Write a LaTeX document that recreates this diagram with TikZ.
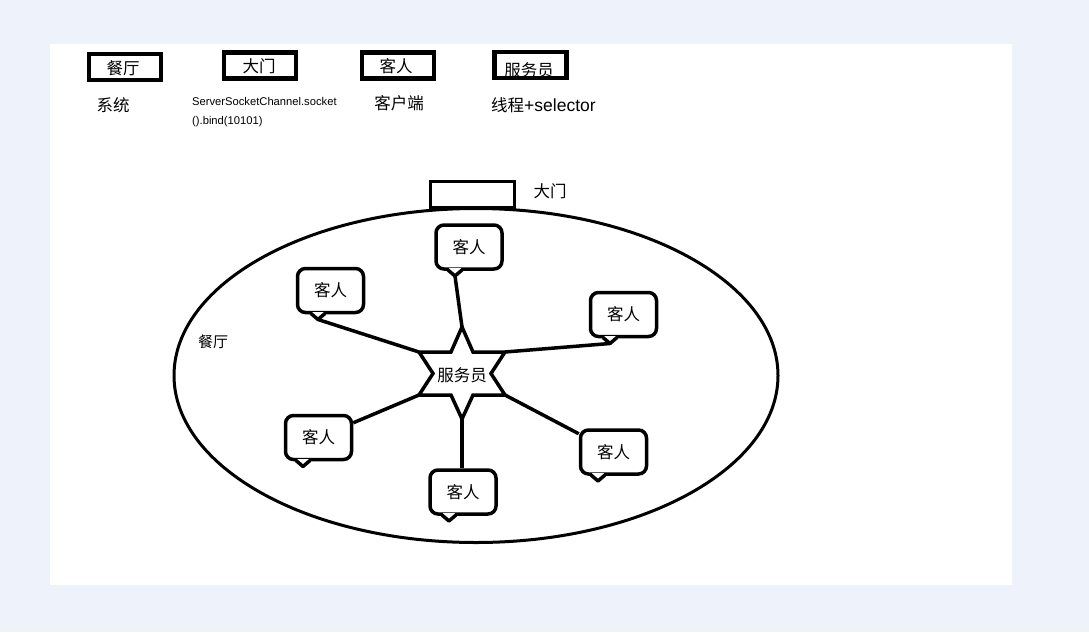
\documentclass[tikz,border=0pt]{standalone}
\usepackage{fontspec}
\setmainfont{Noto Sans CJK SC}
\newfontfamily\latinf{Liberation Sans}
\definecolor{bgc}{RGB}{238,242,250}
\tikzset{
  thick4/.style={line width=3.5pt},
  legbox/.style={draw, line width=4.5pt, minimum width=72pt, minimum height=26pt, inner sep=0pt},
  bubble/.style={draw, thick4, fill=white, rounded corners=8pt, minimum width=66pt, minimum height=44pt, inner sep=0pt, font=\fontsize{16.5}{18}\selectfont},
  conn/.style={thick4},
  lbl/.style={font=\fontsize{16.5}{18}\selectfont, inner sep=0pt},
  small/.style={anchor=west, inner sep=0pt, font=\latinf\fontsize{11.2}{13}\selectfont},
}
\newcommand\guesttail[3]{% name of tip, tail x, bottom y
  \fill[white] (#2-6,#3-2) rectangle (#2+6,#3+2);
  \draw[thick4, line join=round] (#2-7,#3) -- (#2,#3+6) -- (#2+7,#3);
  \coordinate (#1) at (#2,#3+6);
}
\begin{document}
\begin{tikzpicture}[x=1pt,y=-1pt]
\useasboundingbox (0,0) rectangle (1089,632);
\fill[bgc] (0,0) rectangle (1089,632);
\fill[white] (50,44) rectangle (1012,585);

% legend
\node[legbox] (lg1) at (125,67) {};
\node[lbl] (lt1) at (123,68) {餐厅};
\node[legbox] (lg2) at (260,65.5) {};
\node[lbl] (lt2) at (259,66) {大门};
\node[legbox] (lg3) at (398,65.5) {};
\node[lbl] (lt3) at (396,66) {客人};
\node[legbox] (lg4) at (530.5,65) {};
\node[lbl] (lt4) at (529,70) {服务员};

\node[lbl] (d1) at (113,105) {系统};
\node[small] (d2a) at (192,101) {ServerSocketChannel.socket};
\node[small] (d2b) at (192,122) {().bind(10101)};
\node[lbl] (d3) at (399,103) {客户端};
\node[lbl, anchor=west] (d4) at (491,105) {线程{\latinf\fontsize{17.5}{18}\selectfont+selector}};

% restaurant
\draw[line width=3pt] (476,375.5) ellipse [x radius=302, y radius=167];
\node[draw, line width=3.5pt, fill=white, minimum width=84pt, minimum height=26pt, inner sep=0pt] (gate) at (472.5,194.5) {};
\node[lbl] (gatelbl) at (550,191) {大门};
\node[lbl, font=\fontsize{15}{17}\selectfont] (hall) at (213,342) {餐厅};

% star vertices
\coordinate (sT) at (462,327);
\coordinate (sUR) at (505,352);
\coordinate (sLR) at (505,395);
\coordinate (sB) at (462,419);
\coordinate (sLL) at (419,395);
\coordinate (sUL) at (419,352);

% guests
\node[bubble] (g1) at (469,247) {客人};
\guesttail{t1}{455}{270}
\node[bubble] (g2) at (330.5,290.5) {客人};
\guesttail{t2}{318}{313.5}
\node[bubble] (g3) at (623.5,314.5) {客人};
\guesttail{t3}{610}{337.5}
\node[bubble] (g4) at (318.5,437.5) {客人};
\guesttail{t4}{303}{460.5}
\node[bubble] (g5) at (463,492) {客人};
\guesttail{t5}{449}{515}
\node[bubble] (g6) at (613.5,452) {客人};
\guesttail{t6}{598}{475}

% connectors
\draw[conn] (sT) -- (t1);
\draw[conn] (sUL) -- (t2);
\draw[conn] (sUR) -- (t3);
\draw[conn] (sLL) -- (g4);
\draw[conn] (sB) -- (g5.north -| sB);
\draw[conn] (sLR) -- (g6);

% waiter star
\draw[thick4, fill=white, line join=miter]
  (sT) -- (473,352) -- (sUR) -- (491,373.5) -- (sLR) -- (473,395) -- (sB)
  -- (451,395) -- (sLL) -- (433,373.5) -- (sUL) -- (451,352) -- cycle;
\node[lbl] (srv) at (462,375) {服务员};
\end{tikzpicture}
\end{document}
